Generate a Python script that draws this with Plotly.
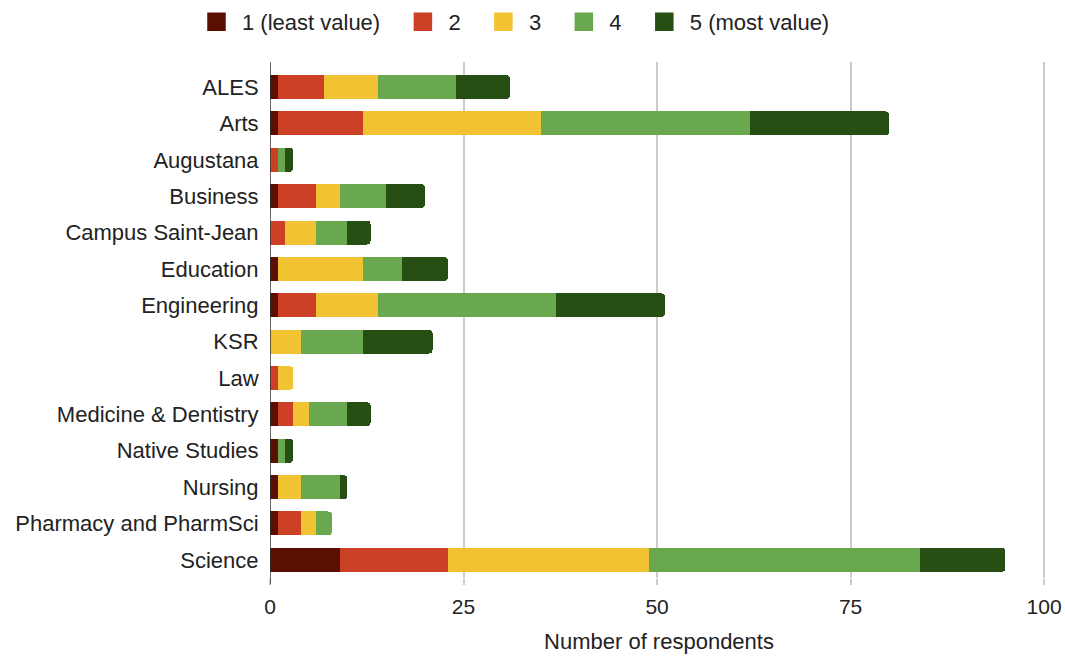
import plotly.graph_objects as go

categories = ["ALES", "Arts", "Augustana", "Business", "Campus Saint-Jean", "Education",
              "Engineering", "KSR", "Law", "Medicine & Dentistry", "Native Studies",
              "Nursing", "Pharmacy and PharmSci", "Science"]

rating_1 = [1, 1, 0, 1, 0, 1, 1, 0, 0, 1, 1, 1, 1, 9]
rating_2 = [6, 11, 1, 5, 2, 0, 5, 0, 1, 2, 0, 0, 3, 14]
rating_3 = [7, 23, 0, 3, 4, 11, 8, 4, 2, 2, 0, 3, 2, 26]
rating_4 = [10, 27, 1, 6, 4, 5, 23, 8, 0, 5, 1, 5, 2, 35]
rating_5 = [7, 18, 1, 5, 3, 6, 14, 9, 0, 3, 1, 1, 0, 11]

series_names = ["1 (least value)", "2", "3", "4", "5 (most value)"]
series_values = [rating_1, rating_2, rating_3, rating_4, rating_5]
colors = ["#5B0F00", "#CC4125", "#F1C232", "#6AA84F", "#274E13"]

x_ticks = [0, 25, 50, 75, 100]

W, H = 1065, 656

fig = go.Figure()
for name, vals, col in zip(series_names, series_values, colors):
    fig.add_trace(go.Bar(
        y=categories, x=vals, name=name, orientation="h", showlegend=False,
        marker=dict(color=col, line=dict(width=0)),
    ))
# legend entries with square swatches
for name, col in zip(series_names, colors):
    fig.add_trace(go.Scatter(
        x=[None], y=[None], mode="markers", name=name + "  ",
        marker=dict(symbol="square", size=16, color=col, line=dict(color=col, width=2.5)),
    ))

font_family = "Liberation Sans, Arial, sans-serif"
fig.update_layout(
    barmode="stack",
    barcornerradius=4,
    bargap=0.34,
    width=W, height=H,
    margin=dict(l=270, r=17, t=62, b=78),
    paper_bgcolor="white", plot_bgcolor="white",
    font=dict(family=font_family, size=22, color="#222222"),
    legend=dict(orientation="h", x=191 / W, xanchor="left", xref="container",
                y=1 - 22 / H, yanchor="middle", yref="container",
                font=dict(size=22, color="#222222"), traceorder="normal",
                itemwidth=41),
    xaxis=dict(range=[0, 100.5], tickvals=x_ticks, showgrid=True, gridcolor="#CCCCCC",
               gridwidth=1.5, zeroline=False, showline=False, automargin=False,
               ticks="outside", ticklen=6, tickcolor="#CCCCCC", tickwidth=1.5,
               ticklabelstandoff=4,
               tickfont=dict(size=21, color="#222222"),
               title=dict(text="Number of respondents", font=dict(size=22, color="#222222"), standoff=16)),
    yaxis=dict(range=[13.5, -0.69], showgrid=False, showline=False, zeroline=False,
               automargin=False,
               ticks="outside", ticklen=6, tickcolor="rgba(0,0,0,0)",
               tickfont=dict(size=22, color="#222222")),
)
fig.add_shape(type="line", xref="x", yref="paper", x0=0, x1=0, y0=-0.012, y1=1,
              line=dict(color="#333333", width=1.5))

fig.write_html("out.html", config={"displayModeBar": False},
               post_script="document.body.style.margin='0';document.body.style.overflow='hidden';")
